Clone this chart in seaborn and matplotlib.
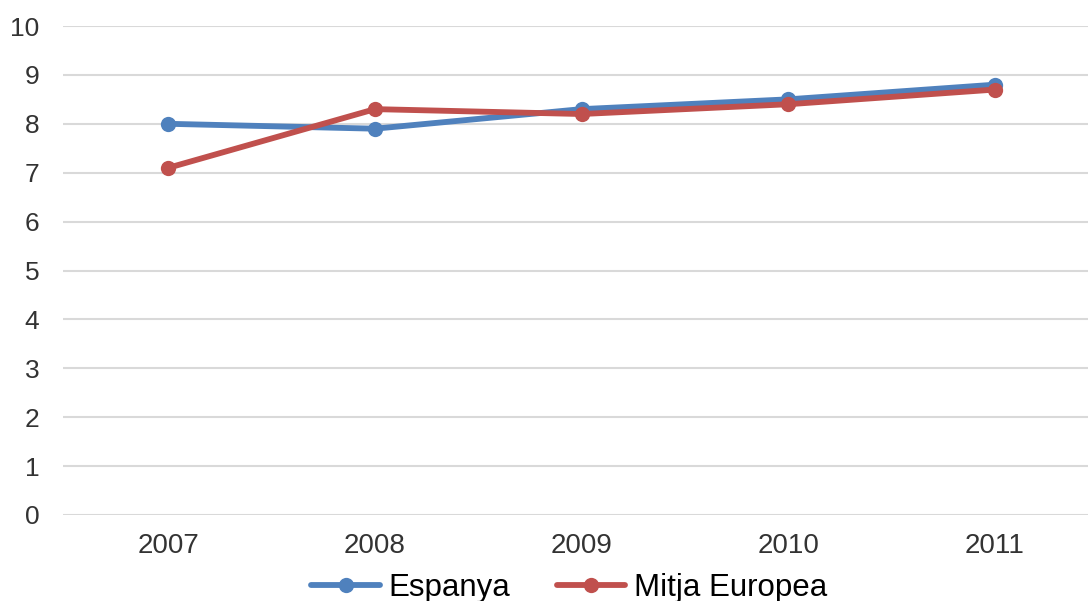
import pandas as pd
import matplotlib.pyplot as plt
import seaborn as sns

# dades
anys = [2007, 2008, 2009, 2010, 2011]
espanya = [8.0, 7.9, 8.3, 8.5, 8.8]
mitja_europea = [7.1, 8.3, 8.2, 8.4, 8.7]
series = ['Espanya', 'Mitja Europea']
colors = ['#4F81BD', '#C0504D']

df = pd.DataFrame({
    'any': anys * 2,
    'valor': espanya + mitja_europea,
    'serie': [series[0]] * len(anys) + [series[1]] * len(anys),
})

sns.set_style('white')
plt.rcParams['font.family'] = ['Liberation Sans', 'DejaVu Sans']

fig = plt.figure(figsize=(10.88, 6.01), dpi=100)
ax = fig.add_axes([63 / 1088, 86 / 601, 1035 / 1088, 489 / 601])

sns.lineplot(data=df, x='any', y='valor', hue='serie', palette=colors,
             marker='o', markersize=11, markeredgewidth=0, linewidth=4.2,
             dashes=False, ax=ax, legend=False)

ax.set_ylim(0, 10)
ax.set_xlim(2006.49, 2011.5)
ax.set_yticks(range(0, 11))
ax.set_xticks(anys)
ax.set_xticklabels([str(a) for a in anys])
ax.grid(axis='y', color='#d9d9d9', linewidth=1.5)
ax.set_axisbelow(True)
for s in ax.spines.values():
    s.set_visible(False)
ax.tick_params(axis='both', length=0, labelcolor='#333333')
ax.tick_params(axis='y', pad=17, labelsize=19)
ax.tick_params(axis='x', pad=13, labelsize=20)
ax.set_xlabel('')
ax.set_ylabel('')

handles = [plt.Line2D([], [], color=c, marker='o', markersize=11,
                      markeredgewidth=0, linewidth=4.2) for c in colors]
leg = fig.legend(handles, series, loc='center', bbox_to_anchor=(0.523, 0.022),
                 ncol=2, frameon=False, fontsize=22.5, handlelength=2.2,
                 handletextpad=0.26, columnspacing=1.5, borderpad=0)
for t in leg.get_texts():
    t.set_color('black')

fig.savefig('out.png', dpi=100)
